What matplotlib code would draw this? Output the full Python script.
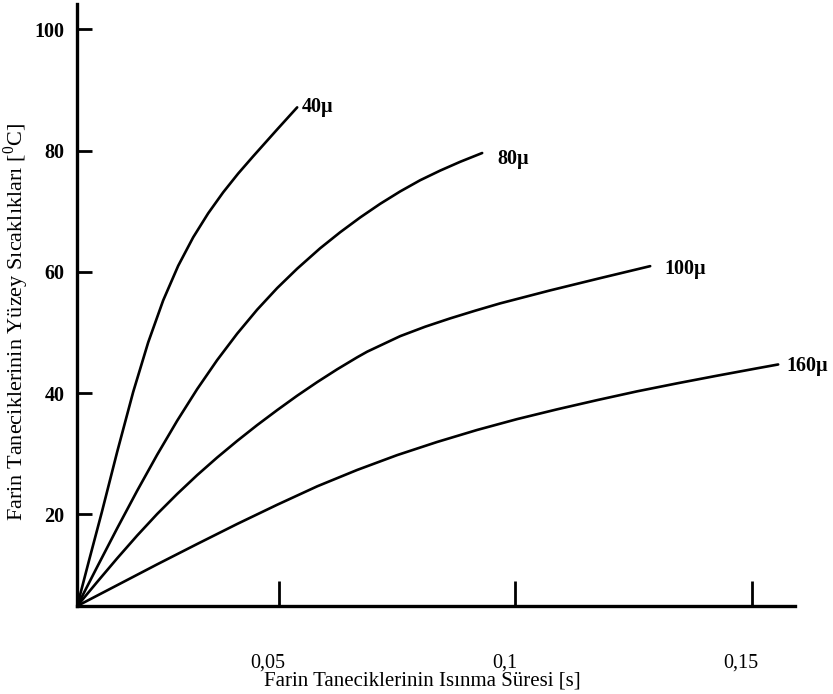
import matplotlib
matplotlib.use("Agg")
import matplotlib.pyplot as plt
import matplotlib.transforms as mtransforms

plt.rcParams["font.family"] = ["Liberation Serif", "DejaVu Serif"]
plt.rcParams["mathtext.fontset"] = "custom"
plt.rcParams["mathtext.rm"] = "Liberation Serif"

# heating time [s] vs surface temperature [C]
t_40 = [0.00734, 0.00987, 0.01256, 0.01579, 0.01918, 0.02235, 0.02552,
        0.02869, 0.03186, 0.03503, 0.03820, 0.04137, 0.04455, 0.04962,
        0.05385]
T_40 = [4.90, 12.49, 20.41, 30.31, 40.21, 48.38, 55.31, 61.01, 65.71,
        69.67, 73.13, 76.23, 79.08, 83.51, 87.15]

t_80 = [0.00734, 0.01156, 0.01579, 0.02002, 0.02425, 0.02848, 0.03271,
        0.03693, 0.04116, 0.04539, 0.04962, 0.05385, 0.05871, 0.06294,
        0.06717, 0.07140, 0.07562, 0.07985, 0.08408, 0.08831, 0.09296]
T_80 = [4.90, 11.34, 17.71, 23.91, 29.85, 35.46, 40.68, 45.46, 49.82,
        53.78, 57.34, 60.54, 63.91, 66.55, 68.99, 71.24, 73.28, 75.13,
        76.72, 78.17, 79.62]

t_100 = [0.00734, 0.01156, 0.01579, 0.02002, 0.02425, 0.02848, 0.03271,
         0.03693, 0.04116, 0.04539, 0.04962, 0.05385, 0.05808, 0.06230,
         0.06653, 0.06865, 0.07562, 0.08091, 0.08619, 0.09148, 0.09677,
         0.10734, 0.11791, 0.12848]
T_100 = [4.90, 8.86, 12.76, 16.52, 20.08, 23.38, 26.49, 29.39, 32.13,
         34.74, 37.21, 39.59, 41.83, 43.94, 45.92, 46.85, 49.41, 50.97,
         52.34, 53.61, 54.82, 56.96, 58.98, 60.96]

t_160 = [0.00734, 0.01579, 0.02425, 0.03271, 0.04116, 0.04962, 0.05808,
         0.06653, 0.07499, 0.08345, 0.09190, 0.10036, 0.10881, 0.11727,
         0.12573, 0.13419, 0.14264, 0.15110, 0.15554]
T_160 = [4.90, 8.33, 11.77, 15.13, 18.43, 21.60, 24.64, 27.34, 29.79,
         31.96, 33.94, 35.73, 37.34, 38.86, 40.31, 41.63, 42.89, 44.11,
         44.74]

curves = [("40\u03bc", t_40, T_40, (3, 0)),
          ("80\u03bc", t_80, T_80, (11, -4)),
          ("100\u03bc", t_100, T_100, (10, -2)),
          ("160\u03bc", t_160, T_160, (6, -1))]

x_ticks = [0.05, 0.1, 0.15]
x_ticklabels = ["0,05", "0,1", "0,15"]
y_ticks = [20, 40, 60, 80, 100]

fig = plt.figure(figsize=(8.33, 6.94), dpi=100)
ax = fig.add_axes([77 / 833, 88 / 694, 718 / 833, 602 / 694])

for name, t, T, off in curves:
    ax.plot(t, T, color="black", linewidth=1.9, solid_capstyle="round",
            solid_joinstyle="round")
    ax.annotate(name, xy=(t[-1], T[-1]), xytext=off,
                textcoords="offset points", ha="left", va="center",
                fontsize=14.5, fontweight="bold")

ax.set_xlim(0.0073, 0.1591)
ax.set_ylim(4.9, 104.2)

for side in ("top", "right"):
    ax.spines[side].set_visible(False)
for side in ("left", "bottom"):
    ax.spines[side].set_linewidth(2.4)

ax.set_xticks(x_ticks)
ax.set_xticklabels(x_ticklabels, fontsize=14.5)
ax.set_yticks(y_ticks)
ax.set_yticklabels([str(v) for v in y_ticks], fontsize=14.5,
                   fontweight="bold")
ax.tick_params(axis="x", direction="in", length=18, width=2, pad=34)
ax.tick_params(axis="y", direction="in", length=11, width=2, pad=9)

# the printed tick labels sit a little left of their ticks
shift = mtransforms.ScaledTranslation(-8 / 72, 0, fig.dpi_scale_trans)
for lab in ax.get_xticklabels():
    lab.set_transform(lab.get_transform() + shift)

ax.set_xlabel("Farin Taneciklerinin Isınma Süresi [s]", fontsize=15)
ax.xaxis.set_label_coords(0.4805, -0.108)
ax.set_ylabel("Farin Taneciklerinin Yüzey Sıcaklıkları [$^0$C]",
              fontsize=16)
ax.yaxis.set_label_coords(-0.064, 0.472)

fig.savefig("out.png", dpi=100)
